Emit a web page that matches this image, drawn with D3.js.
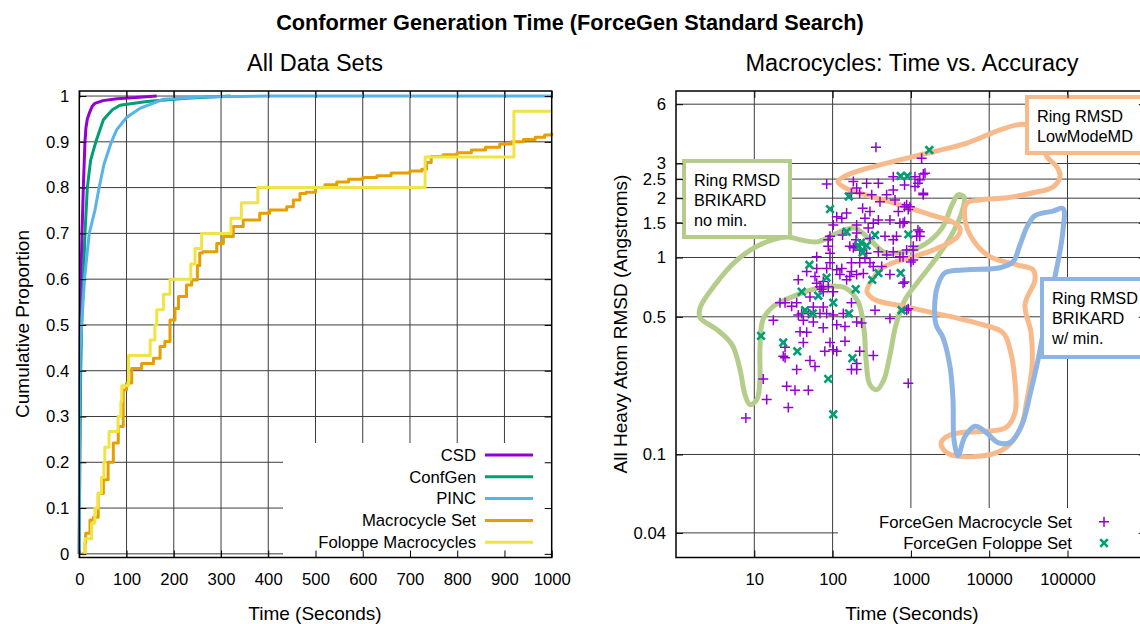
<!DOCTYPE html>
<html lang="en">
<head>
<meta charset="utf-8">
<title>Conformer Generation Time</title>
<script src="https://cdn.jsdelivr.net/npm/d3@7"></script>
<style>
  body { margin: 0; background: #fff; }
  svg { display: block; font-family: "Liberation Sans", Arial, sans-serif; }
</style>
</head>
<body>
<svg id="chart" width="1140" height="624"></svg>
<script>
// ---- left panel: cumulative proportion vs time [seconds, proportion]
var csd = [[0,0],[1,0.3],[2,0.5],[3.6,0.6],[5.7,0.7],[8.5,0.8],[12,0.9],[14,0.93],[17,0.95],[21,0.962],[27,0.977],[33,0.984],[50,0.99],[80,0.994],[120,0.997],[164,1]];
var confgen = [[0,0],[1,0.2],[3,0.4],[5,0.5],[8.5,0.6],[12,0.7],[17,0.8],[24,0.86],[35,0.9],[51,0.948],[70,0.97],[86,0.98],[143,0.988],[227,0.995],[320,1]];
var pinc = [[0,0],[0.5,0.3],[2,0.45],[5,0.5],[11,0.6],[21,0.7],[33,0.75],[42,0.8],[52,0.85],[68,0.9],[79,0.926],[100,0.953],[128,0.973],[178,0.993],[255,0.998],[400,1],[1000,1]];
var macroSet = [[5,0],[12,0.023],[13.5,0.045],[22.6,0.074],[30,0.08],[40,0.132],[51,0.162],[61,0.2],[72,0.242],[82.5,0.278],[93,0.358],[100,0.373],[111,0.405],[132,0.416],[157,0.427],[171,0.453],[181,0.464],[192,0.511],[202.6,0.536],[210,0.562],[227,0.587],[238,0.598],[250,0.63],[255,0.657],[261,0.66],[291,0.678],[305,0.693],[326,0.715],[347,0.729],[382,0.744],[403,0.751],[439,0.758],[453,0.773],[467,0.787],[480,0.79],[500,0.8],[520,0.806],[545,0.812],[570,0.818],[600,0.822],[630,0.826],[660,0.832],[700,0.836],[725,0.84],[735,0.855],[745,0.868],[770,0.872],[800,0.876],[830,0.882],[860,0.888],[890,0.895],[915,0.9],[940,0.905],[965,0.91],[985,0.915],[1000,0.92]];
var foloppe = [[7,0],[12,0.033],[26,0.067],[33,0.1],[40,0.133],[47,0.167],[52,0.2],[54,0.233],[63,0.267],[82,0.3],[88,0.333],[90,0.367],[104,0.433],[150,0.467],[160,0.5],[164,0.533],[178,0.567],[192,0.6],[236,0.633],[245,0.667],[259,0.7],[321,0.733],[343,0.767],[378,0.8],[732,0.867],[920,0.967],[1000,0.967]];

var seriesNames = ["CSD", "ConfGen", "PINC", "Macrocycle Set", "Foloppe Macrocycles"];
var seriesColors = ["#9400d3", "#009e73", "#56b4e9", "#e69f00", "#f0e442"];
var leftXTicks = [0,100,200,300,400,500,600,700,800,900,1000];
var leftYTicks = [0,0.1,0.2,0.3,0.4,0.5,0.6,0.7,0.8,0.9,1];

// ---- right panel: time (s) vs all heavy atom RMSD (A)
var macroPts = [[358,3.63],[1371,3.19],[84,2.36],[184,2.43],[384,2.38],[595,2.57],[1128,2.57],[1440,2.65],[1230,2.38],[1128,2.29],[1440,2.12],[830,2.33],[203,2.25],[222,2.12],[174,2.12],[316,2.08],[490,2.08],[627,1.96],[883,1.85],[925,1.75],[692,1.71],[403,1.92],[242,1.78],[300,1.71],[384,1.55],[259,1.58],[830,1.52],[203,1.46],[102,1.46],[134,1.3],[92.6,1.28],[88,1.14],[92.6,1.05],[184,1.12],[199,1.23],[300,1.25],[285,1.41],[467,1.28],[655,1.28],[1186,1.28],[1300,1.35],[1072,1.14],[1072,0.97],[724,1.01],[595,1.07],[490,1.03],[384,1.07],[300,0.94],[424,0.9],[540,0.82],[830,0.75],[174,0.94],[131,0.88],[166,0.8],[203,0.82],[247,0.83],[84,0.88],[62.7,1.01],[46.7,0.85],[59.6,0.8],[88,0.71],[72.6,0.69],[36.5,0.77],[51.4,0.63],[34.8,0.59],[24.7,0.59],[21.3,0.59],[76,0.56],[102,0.51],[56.7,0.47],[76,0.44],[113,0.456],[174,0.59],[235,0.465],[348,0.54],[540,0.49],[925,0.55],[17.5,0.48],[38.4,0.42],[46.7,0.417],[42.3,0.37],[24.7,0.35],[24.7,0.31],[92.6,0.37],[102,0.34],[79.5,0.334],[144,0.376],[222,0.334],[331,0.318],[203,0.27],[51.4,0.3],[59.6,0.28],[13,0.242],[25.9,0.222],[33.1,0.212],[49,0.212],[14.4,0.19],[27.2,0.173],[7.8,0.153],[925,0.23],
  [1514,2.68],[1300,2.48],[1440,2.08],[973,1.81],[830,1.81],[794,1.49],[1230,1.38],[1300,1.28],[1072,1.09],[1000,0.95],[794,1.01],[794,0.74],[883,0.54],
  [69,0.71],[76,0.67],[102,0.67],[124,0.82],[151,0.77],[174,0.85],[113,0.866],[222,0.94],[259,0.99],[331,0.9],[193,1.14],[222,1.09],[166,1.14],[203,1.33],[272,1.05],[595,1.23],[883,1.09],[151,1.68],[113,1.61],[331,1.49],[540,1.55],[724,1.49],[595,2.2],[272,2.38],[131,1.58],[40.3,0.52],[49,0.52],[42.3,0.48],[36.5,0.51],[56.7,0.56],[84,0.52],[137,0.52],[144,0.447],[203,0.47],[113,0.334],[174,0.27],[203,0.29],[34.8,0.27],[23.4,0.315],[30,0.565],[62.7,0.74],[76,0.756],[92.6,0.94],[62.7,0.88],[88,1.23],[69,0.52]];
var foloppePts = [[1718,3.51],[741,2.59],[902,2.59],[161,2.04],[92.6,1.76],[151,1.35],[348,1.3],[927,1.31],[230,1.19],[272,1.15],[242,1.06],[217,1.14],[50.5,0.918],[84,0.79],[384,0.834],[321,0.77],[741,0.834],[197,0.69],[40.3,0.67],[65.6,0.64],[102,0.59],[44.5,0.54],[55.7,0.52],[162,0.52],[762,0.54],[12.2,0.4],[23.4,0.37],[35.4,0.334],[179,0.308],[88,0.242],[102,0.16]];
var rightXTicks = [10,100,1000,10000,100000];
var rightYTicks = [0.04,0.1,0.5,1,1.5,2,2.5,3,6];

// hand drawn outlines of the ring RMSD regions [seconds, RMSD]
var brikardNoMin = [[26.2,1.27],[38.3,1.23],[63.2,1.2],[124,1.35],[193,1.41],[300,1.23],[467,1.06],[841,1.07],[1514,1.17],[2495,1.41],[3350,1.85],[4000,2.08],[4767,2.03],[4497,1.71],[3158,1.26],[2032,0.973],[1233,0.753],[841,0.61],[645,0.456],[541,0.321],[453,0.24],[369,0.2135],[300,0.226],[267,0.303],[252,0.43],[211,0.596],[144,0.702],[69,0.702],[33.1,0.64],[17.3,0.563],[12.9,0.483],[11.8,0.341],[11.8,0.24],[10.8,0.19],[8.81,0.179],[7.6,0.201],[6.57,0.27],[5.19,0.361],[3.34,0.43],[2.03,0.495],[2.03,0.556],[3.15,0.727],[5.67,0.951],[11.8,1.16]];
var lowModeMD = [[30410,4.71],[22650,4.71],[13740,4.44],[5203,3.81],[1915,3.44],[726,3.13],[300,2.86],[157,2.63],[117,2.43],[144,2.26],[300,2.05],[726,1.85],[1754,1.65],[3350,1.52],[4237,1.41],[3880,1.27],[1915,1.09],[1064,1.01],[590,0.94],[403,0.866],[319,0.771],[275,0.67],[348,0.61],[841,0.563],[6590,0.467],[15000,0.415],[18450,0.341],[21370,0.232],[21370,0.163],[16400,0.137],[8840,0.131],[4237,0.129],[2892,0.1235],[2423,0.1137],[2892,0.102],[6590,0.0977],[15000,0.106],[24740,0.134],[30410,0.19],[35230,0.279],[34200,0.415],[28660,0.576],[38450,0.771],[36250,0.866],[22650,0.918],[10230,1.01],[6209,1.23],[4909,1.55],[5203,1.89],[7636,1.96],[16870,2.01],[36250,2.13],[65300,2.28],[80200,2.57],[73400,2.88],[54700,3.24],[44550,3.95]];
var brikardMin = [[87700,1.77],[87700,1.38],[75600,0.951],[59750,0.61],[47230,0.383],[40790,0.286],[33200,0.201],[26240,0.142],[18450,0.115],[12940,0.115],[8840,0.131],[6590,0.139],[4909,0.1235],[4000,0.0988],[3550,0.119],[3450,0.19],[3158,0.279],[2570,0.392],[2093,0.456],[2032,0.61],[2218,0.727],[2727,0.837],[5203,0.866],[13740,0.887],[20140,0.951],[24740,1.16],[30410,1.43],[38450,1.63],[65300,1.72]];

var svg = d3.select("#chart");
var gridColor = "#3c3c3c";

svg.append("text").attr("x", 570).attr("y", 30).attr("text-anchor", "middle")
  .style("font-size", "21.7px").style("font-weight", "bold")
  .text("Conformer Generation Time (ForceGen Standard Search)");

// ================= left panel =================
var x1 = d3.scaleLinear().domain([0, 1000]).range([79.3, 551.7]);
var y1 = d3.scaleLinear().domain([-0.008, 1.011]).range([557.5, 91]);
var L = svg.append("g");

L.append("text").attr("x", 315).attr("y", 71).attr("text-anchor", "middle")
  .style("font-size", "23.5px").text("All Data Sets");

// grid
L.selectAll(".gx").data(leftXTicks.slice(1, -1)).enter().append("line")
  .attr("x1", d => x1(d)).attr("x2", d => x1(d))
  .attr("y1", y1.range()[0]).attr("y2", y1.range()[1])
  .attr("stroke", gridColor).attr("stroke-width", 1);
L.selectAll(".gy").data(leftYTicks).enter().append("line")
  .attr("x1", x1.range()[0]).attr("x2", x1.range()[1])
  .attr("y1", d => y1(d)).attr("y2", d => y1(d))
  .attr("stroke", gridColor).attr("stroke-width", 1);

// opaque key
L.append("rect").attr("x", 283).attr("y", 443).attr("width", 552 - 283).attr("height", 557 - 443).attr("fill", "#fff");

var allSeries = [csd, confgen, pinc, macroSet, foloppe];
var smooth = d3.line().x(d => x1(d[0])).y(d => y1(d[1]));
var stepped = d3.line().x(d => x1(d[0])).y(d => y1(d[1])).curve(d3.curveStepAfter);
allSeries.forEach(function (s, i) {
  L.append("path").datum(s)
    .attr("d", i >= 3 ? stepped : smooth)
    .attr("fill", "none").attr("stroke", seriesColors[i])
    .attr("stroke-width", 3).attr("stroke-linejoin", "round");
});

// axes with inward ticks
L.append("g").attr("transform", "translate(0," + y1.range()[0] + ")")
  .call(d3.axisBottom(x1).tickValues(leftXTicks).tickSize(-7).tickPadding(16).tickFormat(d3.format("d")));
L.append("g").attr("transform", "translate(0," + y1.range()[1] + ")")
  .call(d3.axisTop(x1).tickValues(leftXTicks).tickSize(-7).tickFormat(""));
L.append("g").attr("transform", "translate(" + x1.range()[0] + ",0)")
  .call(d3.axisLeft(y1).tickValues(leftYTicks).tickSize(-7).tickPadding(10).tickFormat(d3.format("")));
L.append("g").attr("transform", "translate(" + x1.range()[1] + ",0)")
  .call(d3.axisRight(y1).tickValues(leftYTicks).tickSize(-7).tickFormat(""));
L.append("rect").attr("x", x1.range()[0]).attr("y", y1.range()[1])
  .attr("width", x1.range()[1] - x1.range()[0]).attr("height", y1.range()[0] - y1.range()[1])
  .attr("fill", "none").attr("stroke", "#000").attr("stroke-width", 1.5);

// legend
seriesNames.forEach(function (name, i) {
  var ly = 455 + i * 21.8;
  L.append("text").attr("x", 476).attr("y", ly).attr("dy", "0.35em").attr("text-anchor", "end")
    .style("font-size", "16.7px").text(name);
  L.append("line").attr("x1", 485).attr("x2", 533).attr("y1", ly).attr("y2", ly)
    .attr("stroke", seriesColors[i]).attr("stroke-width", 3);
});

L.append("text").attr("x", 315).attr("y", 620).attr("text-anchor", "middle")
  .style("font-size", "19px").text("Time (Seconds)");
L.append("text").attr("transform", "translate(22,324) rotate(-90)").attr("dy", "0.35em")
  .attr("text-anchor", "middle").style("font-size", "19px").text("Cumulative Proportion");

// ================= right panel =================
var x2 = d3.scaleLog().domain([1, 1e6]).range([676, 1145.8]);
var y2 = d3.scaleLog().domain([0.03, 7]).range([557.5, 91]);
var R = svg.append("g");

R.append("text").attr("x", 912).attr("y", 71).attr("text-anchor", "middle")
  .style("font-size", "23.5px").text("Macrocycles: Time vs. Accuracy");

R.selectAll(".gx").data(rightXTicks).enter().append("line")
  .attr("x1", d => x2(d)).attr("x2", d => x2(d))
  .attr("y1", y2.range()[0]).attr("y2", y2.range()[1])
  .attr("stroke", gridColor).attr("stroke-width", 1);
R.selectAll(".gy").data(rightYTicks).enter().append("line")
  .attr("x1", x2.range()[0]).attr("x2", x2.range()[1])
  .attr("y1", d => y2(d)).attr("y2", d => y2(d))
  .attr("stroke", gridColor).attr("stroke-width", 1);

// region outlines
var blob = d3.line().x(d => x2(d[0])).y(d => y2(d[1])).curve(d3.curveCatmullRomClosed.alpha(0.5));
[[brikardNoMin, "#b4cd8b"], [lowModeMD, "#f8b98b"], [brikardMin, "#8db4e3"]].forEach(function (b) {
  R.append("path").datum(b[0]).attr("d", blob).attr("fill", "none")
    .attr("stroke", b[1]).attr("stroke-width", 5).attr("stroke-linejoin", "round");
});

// region labels
function labelBox(x, y, w, h, color, lines) {
  R.append("rect").attr("x", x).attr("y", y).attr("width", w).attr("height", h)
    .attr("fill", "#fff").attr("stroke", color).attr("stroke-width", 4);
  lines.forEach(function (t, i) {
    R.append("text").attr("x", x + 10).attr("y", y + 19 + i * 20).attr("dy", "0.35em")
      .style("font-size", "16.3px").text(t);
  });
}
labelBox(684, 161, 106, 76, "#b4cd8b", ["Ring RMSD", "BRIKARD", "no min."]);
labelBox(1027, 97, 130, 56, "#f8b98b", ["Ring RMSD", "LowModeMD"]);
labelBox(1042, 279, 120, 78, "#8db4e3", ["Ring RMSD", "BRIKARD", "w/ min."]);

// points
var plusPath = "M-5,0H5M0,-5V5";
var crossPath = "M-3.8,-3.8L3.8,3.8M-3.8,3.8L3.8,-3.8";
R.selectAll(".mp").data(macroPts).enter().append("path")
  .attr("transform", d => "translate(" + x2(d[0]) + "," + y2(d[1]) + ")")
  .attr("d", plusPath).attr("stroke", "#9400d3").attr("stroke-width", 1.5).attr("fill", "none");
R.selectAll(".fp").data(foloppePts).enter().append("path")
  .attr("transform", d => "translate(" + x2(d[0]) + "," + y2(d[1]) + ")")
  .attr("d", crossPath).attr("stroke", "#009e73").attr("stroke-width", 2.6).attr("fill", "none");

// opaque key
R.append("rect").attr("x", 838).attr("y", 508).attr("width", 1146 - 838).attr("height", 557 - 508).attr("fill", "#fff");

R.append("g").attr("transform", "translate(0," + y2.range()[0] + ")")
  .call(d3.axisBottom(x2).tickValues(rightXTicks).tickSize(-7).tickPadding(16).tickFormat(d3.format("d")));
R.append("g").attr("transform", "translate(0," + y2.range()[1] + ")")
  .call(d3.axisTop(x2).tickValues(rightXTicks).tickSize(-7).tickFormat(""));
R.append("g").attr("transform", "translate(" + x2.range()[0] + ",0)")
  .call(d3.axisLeft(y2).tickValues(rightYTicks).tickSize(-7).tickPadding(10).tickFormat(d => String(d)));
R.append("g").attr("transform", "translate(" + x2.range()[1] + ",0)")
  .call(d3.axisRight(y2).tickValues(rightYTicks).tickSize(-7).tickFormat(""));
R.append("rect").attr("x", x2.range()[0]).attr("y", y2.range()[1])
  .attr("width", x2.range()[1] - x2.range()[0]).attr("height", y2.range()[0] - y2.range()[1])
  .attr("fill", "none").attr("stroke", "#000").attr("stroke-width", 1.5);

// key entries
R.append("text").attr("x", 1072).attr("y", 521.7).attr("dy", "0.35em").attr("text-anchor", "end")
  .style("font-size", "16.7px").text("ForceGen Macrocycle Set");
R.append("path").attr("transform", "translate(1104,521.7)").attr("d", plusPath)
  .attr("stroke", "#9400d3").attr("stroke-width", 1.5);
R.append("text").attr("x", 1072).attr("y", 543).attr("dy", "0.35em").attr("text-anchor", "end")
  .style("font-size", "16.7px").text("ForceGen Foloppe Set");
R.append("path").attr("transform", "translate(1104,543)").attr("d", crossPath)
  .attr("stroke", "#009e73").attr("stroke-width", 2.6);

R.append("text").attr("x", 912).attr("y", 620).attr("text-anchor", "middle")
  .style("font-size", "19px").text("Time (Seconds)");
R.append("text").attr("transform", "translate(620,324) rotate(-90)").attr("dy", "0.35em")
  .attr("text-anchor", "middle").style("font-size", "19px").text("All Heavy Atom RMSD (Angstroms)");

// common axis styling
svg.selectAll(".domain").remove();
svg.selectAll(".tick line").attr("stroke", "#000").attr("stroke-width", 1);
svg.selectAll(".tick text").style("font-size", "16.7px").attr("fill", "#000")
  .style("font-family", "'Liberation Sans', Arial, sans-serif");
</script>
</body>
</html>
